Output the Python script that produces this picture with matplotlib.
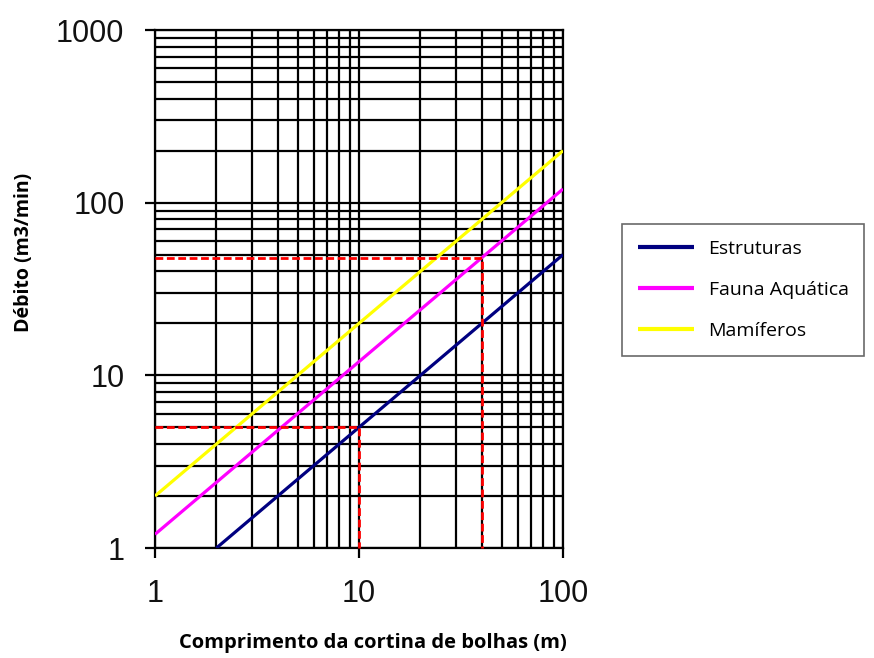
import matplotlib
matplotlib.use("Agg")
import matplotlib.pyplot as plt
from matplotlib.ticker import LogLocator, NullFormatter, FixedLocator

# Data
x_estruturas = [2, 100]
y_estruturas = [1, 50]
x_fauna = [1, 100]
y_fauna = [1.2, 120]
x_mamiferos = [1, 100]
y_mamiferos = [2, 200]
series_names = ["Estruturas", "Fauna Aquática", "Mamíferos"]
series_colors = ["#000080", "#FF00FF", "#FFFF00"]

# Reference (red dashed) readings
ref1_x, ref1_y = 10, 5
ref2_x, ref2_y = 40, 48

x_ticks = [1, 10, 100]
y_ticks = [1, 10, 100, 1000]

fig = plt.figure(figsize=(8.74, 6.58), dpi=100)
ax = fig.add_axes([155/874, 1-548/658, (563-155)/874, (548-30)/658])
ax.set_xscale("log")
ax.set_yscale("log")
ax.set_xlim(1, 100)
ax.set_ylim(1, 1000)

ax.xaxis.set_minor_locator(LogLocator(base=10, subs=range(2, 10)))
ax.yaxis.set_minor_locator(LogLocator(base=10, subs=range(2, 10)))
ax.xaxis.set_minor_formatter(NullFormatter())
ax.yaxis.set_minor_formatter(NullFormatter())
ax.grid(True, which="both", color="black", linewidth=1.6, zorder=0)
ax.set_axisbelow(True)

ax.xaxis.set_major_locator(FixedLocator(x_ticks))
ax.yaxis.set_major_locator(FixedLocator(y_ticks))
ax.set_xticklabels([str(v) for v in x_ticks])
ax.set_yticklabels([str(v) for v in y_ticks])
ax.tick_params(which="major", direction="out", length=7, width=1.6, labelsize=22)
ax.tick_params(axis="x", which="major", pad=15)
ax.tick_params(axis="y", which="major", pad=15)
ax.tick_params(which="minor", length=0)
for lab in ax.get_xticklabels() + ax.get_yticklabels():
    lab.set_fontfamily("Liberation Sans")
    lab.set_color("#111111")

for s in ax.spines.values():
    s.set_linewidth(1.6)

lines = []
for xs, ys, name, col in zip([x_estruturas, x_fauna, x_mamiferos],
                             [y_estruturas, y_fauna, y_mamiferos],
                             series_names, series_colors):
    l, = ax.plot(xs, ys, color=col, linewidth=2.3, label=name, zorder=3, solid_capstyle="butt")
    lines.append(l)

ax.plot([1, ref1_x, ref1_x], [ref1_y, ref1_y, 1], color="red", linestyle=(0, (2.8, 1.3)),
        linewidth=2.0, zorder=4, clip_on=False)
ax.plot([1, ref2_x, ref2_x], [ref2_y, ref2_y, 1], color="red", linestyle=(0, (2.8, 1.3)),
        linewidth=2.0, zorder=4, clip_on=False)

ax.set_xlabel("Comprimento da cortina de bolhas (m)", fontsize=14.5, fontweight="bold",
              fontfamily="Open Sans")
ax.set_ylabel("Débito (m3/min)", fontsize=14, fontweight="bold",
              fontfamily="Open Sans")
ax.xaxis.set_label_coords((373-155)/408, (548-633)/518)
ax.yaxis.set_label_coords((34-155)/408, (548-252)/518)

leg = fig.legend(handles=lines, loc="upper left", bbox_to_anchor=(622/874, 1-224/658),
                 frameon=True, fancybox=False, edgecolor="#444444",
                 prop={"family": "Open Sans", "size": 14},
                 handlelength=2.9, handletextpad=0.75, labelspacing=1.2,
                 borderpad=0.8, borderaxespad=0)
leg.get_frame().set_linewidth(1.2)
for h in leg.legend_handles:
    h.set_linewidth(3)

fig.savefig("out.png", dpi=100)
